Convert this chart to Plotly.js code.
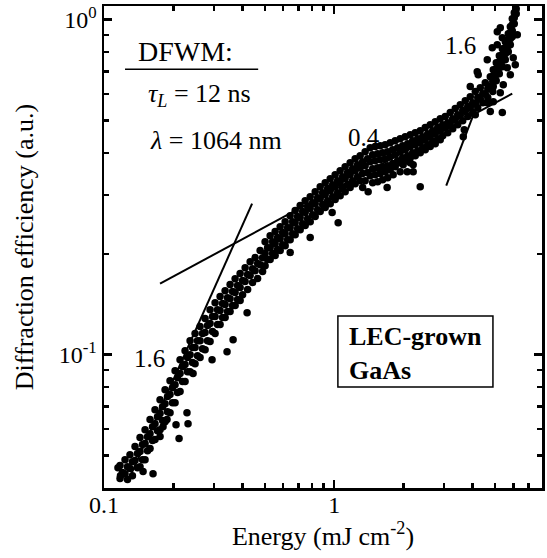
<!DOCTYPE html>
<html>
<head>
<meta charset="utf-8">
<script src="https://cdn.plot.ly/plotly-3.0.1.min.js"></script>
<style>html,body{margin:0;padding:0;background:#fff;}#chart{width:547px;height:558px;}</style>
</head>
<body>
<div id="chart"></div>
<script>
// Energy (mJ cm^-2) / diffraction efficiency (a.u.) pairs
const lowBand = [
[0.1150,0.0460],[0.1179,0.0435],
[0.1174,0.0467],[0.1203,0.0445],[0.1174,0.0427],
[0.1234,0.0486],[0.1265,0.0463],[0.1234,0.0441],[0.1265,0.0424],
[0.1297,0.0503],[0.1329,0.0479],[0.1297,0.0457],[0.1329,0.0435],
[0.1364,0.0532],[0.1398,0.0507],[0.1364,0.0483],[0.1398,0.0460],
[0.1434,0.0566],[0.1470,0.0539],[0.1434,0.0514],[0.1470,0.0486],[0.1434,0.0463],
[0.1508,0.0597],[0.1546,0.0569],[0.1508,0.0543],[0.1546,0.0517],[0.1508,0.0486],
[0.1585,0.0640],[0.1625,0.0609],[0.1585,0.0581],[0.1625,0.0554],[0.1585,0.0525],
[0.1666,0.0685],[0.1708,0.0653],[0.1666,0.0622],[0.1708,0.0593],[0.1666,0.0558],
[0.1752,0.0734],[0.1796,0.0699],[0.1752,0.0667],[0.1796,0.0636],[0.1752,0.0597],
[0.1842,0.0786],[0.1888,0.0750],[0.1842,0.0714],[0.1888,0.0676],[0.1842,0.0631],
[0.1936,0.0836],[0.1984,0.0797],[0.1936,0.0760],[0.1984,0.0719],[0.1936,0.0671],
[0.2036,0.0896],[0.2087,0.0854],[0.2036,0.0814],[0.2087,0.0771],[0.2036,0.0719],
[0.2140,0.0966],[0.2194,0.0921],[0.2140,0.0878],[0.2194,0.0831],[0.2140,0.0776],
[0.2250,0.1028],[0.2306,0.0980],[0.2250,0.0934],[0.2306,0.0890],[0.2250,0.0831],
[0.2366,0.1101],[0.2425,0.1050],[0.2366,0.1000],[0.2425,0.0947],[0.2366,0.0890],
[0.2487,0.1156],[0.2549,0.1101],[0.2487,0.1050],[0.2549,0.0993],[0.2487,0.0940],
[0.2615,0.1213],[0.2680,0.1156],[0.2615,0.1101],[0.2680,0.1042],[0.2615,0.0980],
[0.2749,0.1282],[0.2818,0.1222],[0.2749,0.1164],[0.2818,0.1101],[0.2749,0.1035],
[0.2890,0.1363],[0.2962,0.1299],[0.2890,0.1238],[0.2962,0.1172],[0.2890,0.1094],
[0.3039,0.1430],[0.3115,0.1363],[0.3039,0.1299],[0.3115,0.1230],[0.3039,0.1156],
[0.3195,0.1491],[0.3275,0.1421],[0.3195,0.1354],[0.3275,0.1291],[0.3195,0.1230],
[0.3359,0.1553],[0.3443,0.1480],[0.3359,0.1411],[0.3443,0.1345],[0.3359,0.1291],
[0.3531,0.1619],[0.3619,0.1543],[0.3531,0.1470],[0.3619,0.1401],[0.3531,0.1345],
[0.3713,0.1686],[0.3806,0.1608],[0.3713,0.1532],[0.3806,0.1460],[0.3713,0.1401],
[0.3903,0.1746],[0.4001,0.1664],[0.3903,0.1586],[0.4001,0.1511],[0.3903,0.1450],
[0.4104,0.1819],[0.4207,0.1734],[0.4104,0.1653],[0.4207,0.1564],
[0.4315,0.1895],[0.4423,0.1806],[0.4315,0.1722],[0.4423,0.1641]
];
const midBand = [
[0.4536,0.1949],[0.4649,0.1870],[0.4536,0.1782],[0.4649,0.1687],
[0.4769,0.2045],[0.4888,0.1948],[0.4769,0.1857],[0.4888,0.1770],
[0.5012,0.2175],[0.5137,0.2087],[0.5012,0.2003],[0.5137,0.1922],[0.5012,0.1844],
[0.5271,0.2266],[0.5403,0.2175],[0.5271,0.2087],[0.5403,0.2003],[0.5271,0.1922],
[0.5542,0.2330],[0.5681,0.2236],[0.5542,0.2145],[0.5681,0.2059],[0.5542,0.1976],
[0.5827,0.2411],[0.5973,0.2314],[0.5827,0.2220],[0.5973,0.2130],[0.5827,0.2045],
[0.6126,0.2495],[0.6279,0.2394],[0.6126,0.2298],[0.6279,0.2205],[0.6126,0.2116],
[0.6440,0.2600],[0.6601,0.2495],[0.6440,0.2394],[0.6601,0.2298],[0.6440,0.2205],
[0.6771,0.2692],[0.6940,0.2583],[0.6771,0.2478],[0.6940,0.2378],[0.6771,0.2282],
[0.7119,0.2786],[0.7297,0.2675],[0.7119,0.2565],[0.7297,0.2461],[0.7119,0.2362],
[0.7484,0.2883],[0.7671,0.2767],[0.7484,0.2655],[0.7671,0.2547],[0.7484,0.2428],
[0.7869,0.2963],[0.8066,0.2843],[0.7869,0.2729],[0.8066,0.2618],[0.7869,0.2495],
[0.8273,0.3066],[0.8480,0.2943],[0.8273,0.2824],[0.8480,0.2710],[0.8273,0.2583],
[0.8697,0.3174],[0.8914,0.3046],[0.8697,0.2922],[0.8914,0.2805],[0.8697,0.2675],
[0.9144,0.3262],[0.9373,0.3131],[0.9144,0.3004],[0.9373,0.2883],[0.9144,0.2748],
[0.9614,0.3353],[0.9854,0.3218],[0.9614,0.3087],[0.9854,0.2963],[0.9614,0.2824],
[1.0101,0.3447],[1.0354,0.3307],[1.0101,0.3174],[1.0354,0.3046],[1.0101,0.2903],
[1.0619,0.3542],[1.0884,0.3400],[1.0619,0.3262],[1.0884,0.3131],[1.0619,0.2983],
[1.1165,0.3642],[1.1444,0.3495],[1.1165,0.3353],[1.1444,0.3218],[1.1165,0.3066],
[1.1736,0.3743],[1.2029,0.3592],[1.1736,0.3447],[1.2029,0.3307],[1.1736,0.3153],
[1.2339,0.3847],[1.2647,0.3692],[1.2339,0.3542],[1.2647,0.3400],[1.2339,0.3240],
[1.2973,0.3928],[1.3297,0.3769],[1.2973,0.3617],[1.3297,0.3471],[1.2973,0.3307],[1.3297,0.3153],
[1.3639,0.4036],[1.3980,0.3847],[1.3639,0.3667],[1.3980,0.3495],[1.3639,0.3307],
[1.4339,0.4150],[1.4697,0.3955],[1.4339,0.3769],[1.4697,0.3592],[1.4339,0.3423],[1.4697,0.3262],
[1.5076,0.4179],[1.5453,0.3982],[1.5076,0.3795],[1.5453,0.3617],[1.5076,0.3447],[1.5453,0.3284],
[1.5849,0.4207],[1.6245,0.4008],[1.5849,0.3821],[1.6245,0.3642],[1.5849,0.3471],[1.6245,0.3330],
[1.6664,0.4236],[1.7081,0.4036],[1.6664,0.3847],[1.7081,0.3667],[1.6664,0.3518],[1.7081,0.3376],
[1.7519,0.4294],[1.7957,0.4093],[1.7519,0.3901],[1.7957,0.3718],[1.7519,0.3567],
[1.8419,0.4354],[1.8879,0.4150],[1.8419,0.3955],[1.8879,0.3795],[1.8419,0.3642],
[1.9364,0.4414],[1.9848,0.4207],[1.9364,0.4036],[1.9848,0.3874],[1.9364,0.3743],
[2.0359,0.4474],[2.0868,0.4265],[2.0359,0.4093],[2.0868,0.3928],[2.0359,0.3795],
[2.1404,0.4537],[2.1939,0.4354],[2.1404,0.4179],[2.1939,0.4008],[2.1404,0.3874],
[2.2503,0.4600],[2.3066,0.4414],[2.2503,0.4236],[2.3066,0.4064],[2.2503,0.3928],
[2.3659,0.4664],[2.4250,0.4474],[2.3659,0.4294],[2.4250,0.4150],[2.3659,0.4008],
[2.4873,0.4762],[2.5495,0.4568],[2.4873,0.4384],[2.5495,0.4236],[2.4873,0.4093],
[2.6150,0.4860],[2.6804,0.4664],[2.6150,0.4474],[2.6804,0.4325],[2.6150,0.4179],
[2.7493,0.4961],[2.8180,0.4762],[2.7493,0.4568],[2.8180,0.4414],[2.7493,0.4265],
[2.8904,0.5065],[2.9627,0.4860],[2.8904,0.4664],[2.9627,0.4506],[2.8904,0.4384]
];
const highBand = [
[3.0389,0.5136],[3.1149,0.4928],[3.0389,0.4762],[3.1149,0.4600],
[3.1949,0.5279],[3.2748,0.5065],[3.1949,0.4894],[3.2748,0.4729],
[3.3589,0.5426],[3.4429,0.5206],[3.3589,0.5030],[3.4429,0.4860],
[3.5314,0.5576],[3.6197,0.5352],[3.5314,0.5171],[3.6197,0.4996],
[3.7127,0.5732],[3.8055,0.5501],[3.7127,0.5316],[3.8055,0.5136],
[3.9034,0.5891],[4.0010,0.5653],[3.9034,0.5463],[4.0010,0.5279],
[4.1038,0.6099],[4.2064,0.5853],[4.1038,0.5615],[4.2064,0.5463],
[4.3145,0.6267],[4.4224,0.6014],[4.3145,0.5811],[4.4224,0.5653],
[4.5361,0.6487],[4.6495,0.6225],[4.5361,0.6014],[4.6495,0.5853],
[4.7690,0.6757],[4.8882,0.6530],[4.7690,0.6312],[4.8882,0.6099],
[4.913,0.7092],[4.913,0.6805],[4.913,0.6530],[4.913,0.6312],
[5.062,0.7443],[5.062,0.7141],[5.062,0.6853],[5.062,0.6576],
[5.219,0.7809],[5.219,0.7494],[5.219,0.7190],[5.219,0.6900],
[5.378,0.8193],[5.378,0.7862],[5.378,0.7545],[5.378,0.7240],
[5.542,0.8597],[5.542,0.8249],[5.542,0.7917],[5.542,0.7597],
[5.709,0.9083],[5.709,0.8716],[5.709,0.8364],[5.709,0.8024],
[5.827,0.9531],[5.827,0.9147],[5.827,0.8775],[5.827,0.8421],
[5.941,1.007],[5.941,0.9662],[5.941,0.9272],[5.941,0.8897],
[6.061,1.049],[6.061,1.014],[6.061,0.9728],
[6.183,1.078],[6.183,1.042]
];
const scatterPts = [
[0.1478,0.0448],[0.1633,0.0441],[0.1752,0.0570],[0.1805,0.0609],[0.1878,0.0640],
[0.2056,0.0618],[0.2119,0.0562],[0.2318,0.0622],[0.2294,0.0671],[0.2438,0.0878],
[0.2948,0.0966],[0.3425,0.1021],[0.3638,0.1109],[0.4186,0.1335],
[0.6440,0.2017],[0.7869,0.2236],[0.9802,0.2655],[1.041,0.2478],[1.405,0.3066],
[1.699,0.3153],[1.805,0.3447],[1.936,0.3518],[2.077,0.3518],[2.205,0.3518],
[2.205,0.3692],[2.140,0.3743],[1.995,0.3692],[2.366,0.3174],[3.639,0.4474],[3.675,0.4696],
[4.104,0.5206],[4.769,0.5316],[5.378,0.5279],[5.271,0.6056],[4.627,0.5653],
[3.903,0.6312],[4.184,0.6996],[4.227,0.6853],[4.627,0.7597],[4.864,0.8249],
[5.113,0.8421],[5.113,0.9209],[5.271,0.9467],[5.378,0.8836],[5.652,0.7190],
[5.827,0.6853],[6.000,0.7701],[6.124,0.7340],[6.248,0.9020],[5.430,0.6398],[4.913,0.5692]
];
// power-law guide lines (slopes 1.6, 0.4, 1.6)
const fitLowE = [0.1297, 0.4400], fitLowEta = [0.0432, 0.2824];
const fitMidE = [0.1752, 5.941], fitMidEta = [0.1630, 0.6014];
const fitHighE = [3.069, 4.401], fitHighEta = [0.3196, 0.6098];
// ticks
const xTickVals = [0.1, 1, 8], xTickText = ['0.1', '1', '8'];
const xMinor = [0.2,0.3,0.4,0.5,0.6,0.7,0.8,0.9,2,3,4,5,6,7];
const yTickVals = [0.1, 1], yTickText = ['10<sup>-1</sup>', '10<sup>0</sup>'];
const yMinor = [0.04,0.05,0.06,0.07,0.08,0.09,0.2,0.3,0.4,0.5,0.6,0.7,0.8,0.9];

const allPts = lowBand.concat(midBand, highBand, scatterPts);
const FONT = 'Liberation Serif';
const NB = '\u00A0';

const traces = [
  {x: allPts.map(p => p[0]), y: allPts.map(p => p[1]), type: 'scatter', mode: 'markers',
   marker: {color: '#000', size: 7.5, line: {width: 0}}, hoverinfo: 'x+y'},
  {x: fitLowE, y: fitLowEta, type: 'scatter', mode: 'lines', line: {color: '#000', width: 2}},
  {x: fitMidE, y: fitMidEta, type: 'scatter', mode: 'lines', line: {color: '#000', width: 2}},
  {x: fitHighE, y: fitHighEta, type: 'scatter', mode: 'lines', line: {color: '#000', width: 2}}
];

const axisCommon = {
  type: 'log', showgrid: false, zeroline: false, showline: true, linecolor: '#000', linewidth: 2.5,
  mirror: 'allticks', ticks: 'inside', ticklen: 8, tickwidth: 2.5, tickcolor: '#000',
  tickmode: 'array', tickfont: {family: FONT, size: 24, color: '#000'}
};

const ann = (x, y, text, size, extra) => Object.assign({xref: 'paper', yref: 'paper', x: x, y: y, text: text,
  showarrow: false, xanchor: 'center', yanchor: 'middle', font: {family: FONT, size: size, color: '#000'}}, extra || {});

const layout = {
  width: 547, height: 558,
  margin: {l: 104, r: 5, t: 6, b: 70},
  paper_bgcolor: '#fff', plot_bgcolor: '#fff', showlegend: false,
  font: {family: FONT, color: '#000'},
  xaxis: Object.assign({}, axisCommon, {
    range: [-1, Math.log10(8)], tickvals: xTickVals, ticktext: xTickText, ticklabelstandoff: -6,
    minor: {tickmode: 'array', tickvals: xMinor, ticks: 'inside', ticklen: 5, tickwidth: 2.5, tickcolor: '#000', showgrid: false},
    title: {text: NB + NB + NB + 'Energy (mJ cm<sup>-2</sup>)', font: {family: FONT, size: 26, color: '#000'}, standoff: 2}
  }),
  yaxis: Object.assign({}, axisCommon, {
    range: [Math.log10(0.04), 0.0408], tickvals: yTickVals, ticktext: yTickText,
    minor: {tickmode: 'array', tickvals: yMinor, ticks: 'inside', ticklen: 5, tickwidth: 2.5, tickcolor: '#000', showgrid: false},
    title: {text: 'Diffraction efficiency (a.u.)' + NB.repeat(7), font: {family: FONT, size: 26, color: '#000'}, standoff: 18}
  }),
  shapes: [
    {type: 'line', xref: 'paper', yref: 'paper', x0: 0.048, x1: 0.352, y0: 0.869, y1: 0.869, line: {color: '#000', width: 1.5}},
    {type: 'rect', xref: 'paper', yref: 'paper', x0: 0.534, x1: 0.888, y0: 0.2095, y1: 0.3568, line: {color: '#000', width: 1.5}}
  ],
  annotations: [
    ann(0.187, 0.9046, 'DFWM:', 28),
    ann(0.217, 0.8154, '<i>τ</i><sub><i>L</i></sub> = 12 ns', 26),
    ann(0.2557, 0.720, '<i>λ</i> = 1064 nm', 26),
    ann(0.5936, 0.728, '0.4', 25),
    ann(0.8128, 0.919, '1.6', 25),
    ann(0.105, 0.2697, '1.6', 25),
    ann(0.5548, 0.280, '<b>LEC-grown</b><br><b>GaAs</b>', 26, {xanchor: 'left', align: 'left'})
  ]
};

Plotly.newPlot('chart', traces, layout, {displayModeBar: false, staticPlot: true});
</script>
</body>
</html>
